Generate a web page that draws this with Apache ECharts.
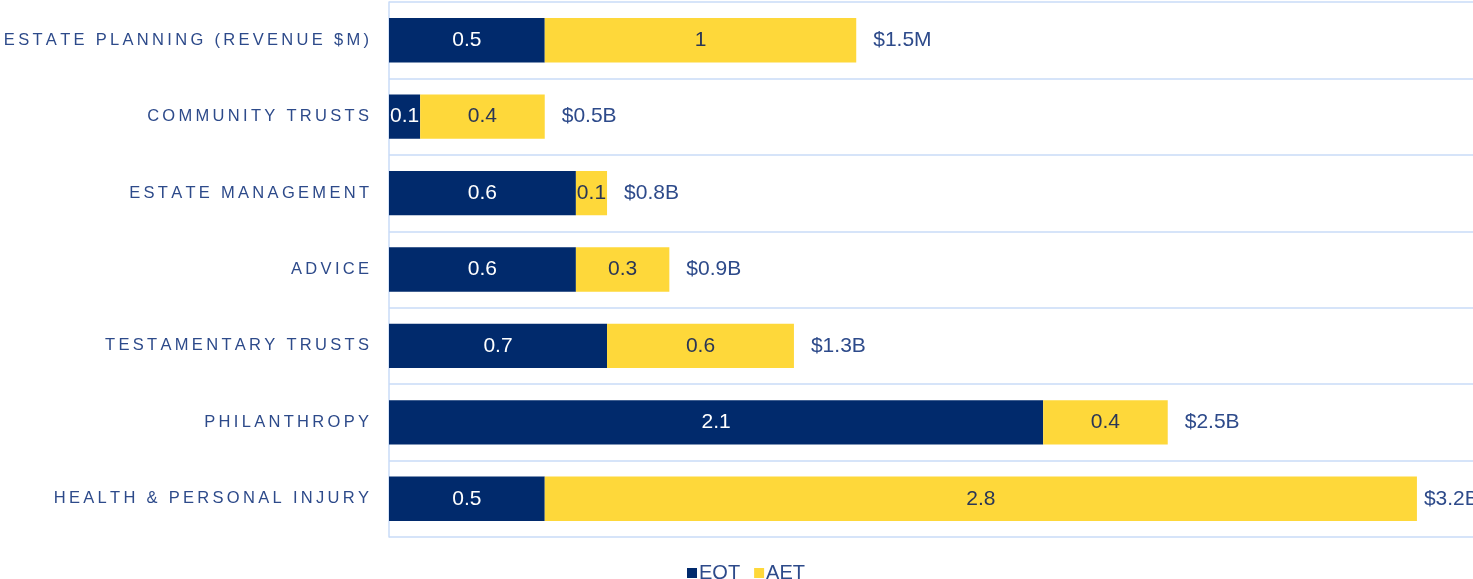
<!DOCTYPE html>
<html>
<head>
<meta charset="utf-8">
<script src="https://cdn.jsdelivr.net/npm/echarts@6/dist/echarts.min.js"></script>
<style>
  html, body { margin: 0; padding: 0; background: #fff; }
  #chart { width: 1473px; height: 579px; }
</style>
</head>
<body>
<div id="chart"></div>
<script>
// categories, top to bottom
const categories = [
  'ESTATE PLANNING (REVENUE $M)',
  'COMMUNITY TRUSTS',
  'ESTATE MANAGEMENT',
  'ADVICE',
  'TESTAMENTARY TRUSTS',
  'PHILANTHROPY',
  'HEALTH & PERSONAL INJURY'
]
const eqtValues = [0.5, 0.1, 0.6, 0.6, 0.7, 2.1, 0.5]
const aetValues = [1, 0.4, 0.1, 0.3, 0.6, 0.4, 2.8]
const totalLabels = ['$1.5M', '$0.5B', '$0.8B', '$0.9B', '$1.3B', '$2.5B', '$3.2B']

const chart = echarts.init(document.getElementById('chart'))

const font = 'Liberation Sans, Arial, sans-serif'

const option = {
  animation: false,
  grid: {
    left: 389,
    top: 2,
    right: 0,
    height: 535,
    containLabel: false,
    outerBoundsMode: 'none',
  },
  legend: {
    data: ['EQT', 'AET'],
    left: 682,
    top: 558,
    itemWidth: 10,
    itemHeight: 10,
    itemGap: 14,
    icon: 'rect',
    textStyle: {
      color: '#2d4a8a',
      fontSize: 20,
      fontFamily: font,
      padding: [0, 0, 0, -3],
    },
  },
  xAxis: {
    type: 'value',
    min: 0,
    max: 3.48,
    show: false,
  },
  yAxis: {
    type: 'category',
    inverse: true,
    data: categories,
    axisLine: { lineStyle: { color: '#c9dbf7', width: 1.5 } },
    axisTick: { show: false },
    splitLine: { show: true, lineStyle: { color: '#c9dbf7', width: 1.5 } },
    axisLabel: {
      margin: 20,
      color: '#2d4a8a',
      fontSize: 16.5,
      fontFamily: font,
      // wide tracking like the original caps labels
      formatter: (v) => v.split('').join('\u2009'),
    },
  },
  series: [
    {
      name: 'EQT',
      type: 'bar',
      stack: 'total',
      barCategoryGap: '42%',
      data: eqtValues,
      color: '#012a6c',
      label: {
        show: true,
        position: 'inside',
        color: '#ffffff',
        fontSize: 21,
        fontFamily: font,
      },
    },
    {
      name: 'AET',
      type: 'bar',
      stack: 'total',
      data: aetValues,
      color: '#fed83a',
      label: {
        show: true,
        position: 'inside',
        color: '#2a3656',
        fontSize: 21,
        fontFamily: font,
      },
    },
    {
      // invisible end cap that carries the total labels
      name: 'total',
      type: 'bar',
      stack: 'total',
      // last label sits tighter to the bar (near the edge in the original)
      data: categories.map((c, i) => i === categories.length - 1 ? { value: 0, label: { distance: 7 } } : 0),
      itemStyle: { color: 'transparent' },
      label: {
        show: true,
        position: 'right',
        distance: 17,
        color: '#2d4a8a',
        fontSize: 21,
        fontFamily: font,
        formatter: (p) => totalLabels[p.dataIndex],
      },
    },
  ],
}

chart.setOption(option)
</script>
</body>
</html>
